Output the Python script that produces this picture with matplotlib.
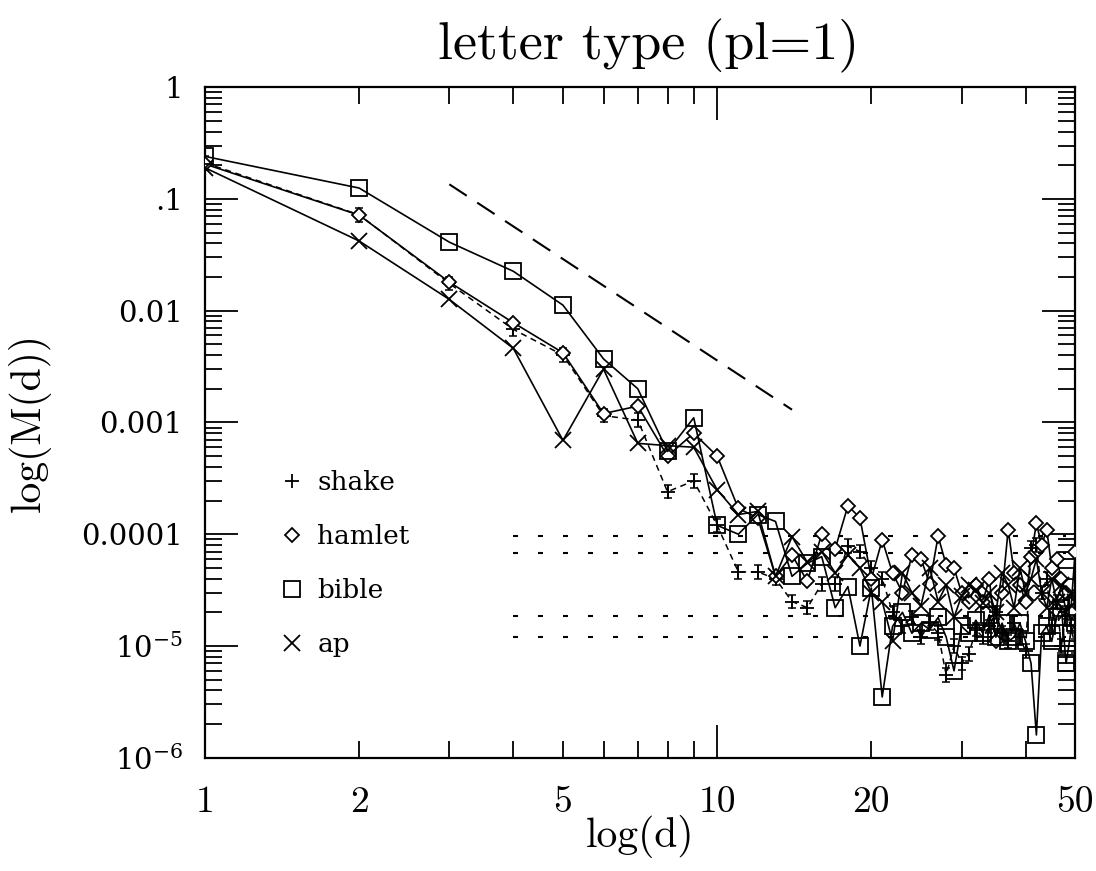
import numpy as np
import matplotlib.pyplot as plt
from matplotlib.lines import Line2D
from matplotlib.ticker import FixedLocator, FixedFormatter, FuncFormatter, LogLocator, NullFormatter

plt.rcParams['mathtext.fontset'] = 'dejavuserif'

# distance d = 1..50
d = np.arange(1, 51)

shake = [0.21, 0.072, 0.0175, 0.0068, 0.0040, 0.00115, 0.00105, 0.00024, 0.00030, 0.00012,
         4.6e-5, 4.6e-5, 4.0e-5, 2.5e-5, 2.2e-5, 3.6e-5, 3.6e-5, 7.8e-5, 7.0e-5, 5.0e-5,
         4.0e-5, 2.0e-5, 1.5e-5, 1.8e-5, 1.2e-5, 1.6e-5, 1.3e-5, 5.5e-6, 1.0e-5, 7.0e-6,
         8.5e-6, 1.4e-5, 1.2e-5, 1.5e-5, 2.0e-5, 1.3e-5, 1.1e-5, 1.6e-5, 1.2e-5, 9.0e-6,
         7.5e-5, 8.0e-5, 3.0e-5, 4.0e-5, 1.5e-5, 2.5e-5, 1.0e-5, 2.0e-5, 1.5e-5, 1.0e-5]

hamlet = [0.205, 0.0715, 0.018, 0.0078, 0.0042, 0.0012, 0.0014, 0.0005, 0.0008, 0.0005,
          1.7e-4, 1.4e-4, 4.2e-5, 6.5e-5, 3.8e-5, 1.0e-4, 7.4e-5, 1.8e-4, 1.4e-4, 4.0e-5,
          8.9e-5, 4.5e-5, 3.0e-5, 6.5e-5, 6.0e-5, 3.6e-5, 9.6e-5, 5.3e-5, 5.0e-5, 3.0e-5,
          2.5e-5, 3.5e-5, 2.5e-5, 4.0e-5, 1.1e-5, 3.0e-5, 1.1e-4, 4.5e-5, 3.5e-5, 2.5e-5,
          6.3e-5, 1.25e-4, 8.0e-5, 1.1e-4, 5.0e-5, 6.0e-5, 4.0e-5, 3.0e-5, 2.0e-5, 7.0e-5]

bible = [0.24, 0.125, 0.041, 0.0225, 0.0112, 0.0037, 0.0020, 0.00055, 0.0011, 0.00012,
         1.0e-4, 1.5e-4, 1.3e-4, 4.2e-5, 5.5e-5, 6.3e-5, 2.2e-5, 3.4e-5, 1.0e-5, 3.3e-5,
         3.5e-6, 1.5e-5, 2.0e-5, 1.3e-5, 1.6e-5, 1.4e-5, 1.8e-5, 1.2e-5, 6.0e-6, 1.5e-5,
         1.3e-5, 1.7e-5, 1.3e-5, 1.9e-5, 1.2e-5, 1.6e-5, 1.1e-5, 1.2e-5, 1.6e-5, 1.1e-5,
         7.0e-6, 1.6e-6, 1.3e-5, 1.5e-5, 1.1e-5, 1.8e-5, 2.2e-5, 7.0e-6, 1.3e-5, 1.6e-5]

ap = [0.19, 0.042, 0.0126, 0.0046, 0.00069, 0.0030, 0.00065, 0.00062, 0.0006, 0.00025,
      1.5e-4, 1.6e-4, 4.2e-5, 9.5e-5, 5.6e-5, 7.0e-5, 4.5e-5, 6.5e-5, 5.0e-5, 3.0e-5,
      2.5e-5, 1.1e-5, 4.5e-5, 3.0e-5, 2.3e-5, 5.0e-5, 2.5e-5, 3.5e-5, 1.8e-5, 2.8e-5,
      3.5e-5, 3.2e-5, 2.4e-5, 3.0e-5, 2.0e-5, 4.5e-5, 3.5e-5, 2.2e-5, 5.0e-5, 3.0e-5,
      4.0e-5, 6.0e-5, 3.0e-5, 2.2e-5, 4.0e-5, 2.5e-5, 3.5e-5, 2.0e-5, 3.0e-5, 2.5e-5]

# slope -3 guide line and noise-floor levels
guide_d = [3, 14]
guide_m = [0.135, 0.0013]
floor_d = [4, 48]
floor_levels = [9.6e-5, 6.8e-5, 1.85e-5, 1.2e-5]

fig = plt.figure(figsize=(10.96, 8.71), dpi=100)
ax = fig.add_axes([0.187, 0.130, 0.794, 0.770])
ax.set_xscale('log')
ax.set_yscale('log')

shake = np.array(shake)
ax.plot(d, shake, color='k', lw=1.1, ls=(0, (4, 3)), zorder=2)
ax.errorbar(d, shake, yerr=[shake * 0.13, shake * 0.15], fmt='none', ecolor='k',
            elinewidth=1.1, capsize=3, capthick=1.1, zorder=3)
ax.plot(d, shake, 'k+', ms=10, mew=1.3, zorder=3)
ax.plot(d, hamlet, color='k', lw=1.2, marker='D', ms=7, mfc='white', mew=1.3, zorder=4)
ax.plot(d, bible, color='k', lw=1.2, marker='s', ms=11, mfc='none', mew=1.3, zorder=4)
ax.plot(d, ap, color='k', lw=1.2, marker='x', ms=11, mew=1.3, zorder=4)

ax.plot(guide_d, guide_m, color='k', lw=1.5, ls=(0, (10, 6)))
ax.hlines(floor_levels, floor_d[0], floor_d[1], colors='k', lw=1.5, linestyles=[(0, (2.4, 9.6))])

ax.set_xlim(1, 50)
ax.set_ylim(1e-6, 1)

ax.xaxis.set_major_locator(FixedLocator([1, 10]))
ax.xaxis.set_major_formatter(FixedFormatter(['1', '10']))
ax.xaxis.set_minor_locator(FixedLocator([2, 3, 4, 5, 6, 7, 8, 9, 20, 30, 40, 50]))
xlab = {2: '2', 5: '5', 20: '20', 50: '50'}
ax.xaxis.set_minor_formatter(FuncFormatter(lambda v, p: xlab.get(int(round(v)), '')))

ax.yaxis.set_major_locator(FixedLocator([1e-6, 1e-5, 1e-4, 1e-3, 1e-2, 1e-1, 1]))
ax.yaxis.set_major_formatter(FixedFormatter(['$10^{-6}$', '$10^{-5}$', '0.0001', '0.001',
                                             '0.01', '.1', '1']))
ax.yaxis.set_minor_locator(LogLocator(base=10, subs=np.arange(2, 10), numticks=20))
ax.yaxis.set_minor_formatter(NullFormatter())

ax.tick_params(which='both', direction='in', top=True, right=True, width=1.3)
ax.tick_params(which='major', length=24)
ax.tick_params(which='minor', length=12)
ax.tick_params(axis='x', which='both', pad=20)
ax.tick_params(axis='y', which='both', pad=16)
for lab in ax.get_xticklabels(which='both'):
    lab.set_family('cmr10')
    lab.set_fontsize(27)
for lab in ax.get_yticklabels():
    lab.set_family('DejaVu Serif')
    lab.set_fontsize(21)
for s in ax.spines.values():
    s.set_linewidth(1.6)

ax.set_xlabel('log(d)', family='cmr10', fontsize=30)
ax.xaxis.set_label_coords(0.5, -0.085)
ax.set_ylabel('log(M(d))', family='cmr10', fontsize=30)
ax.yaxis.set_label_coords(-0.177, 0.5)
ax.set_title('letter type (pl=1)', family='cmr10', fontsize=39, pad=20, x=0.51)

handles = [Line2D([], [], color='k', marker='+', ms=10, mew=1.3, ls='none'),
           Line2D([], [], color='k', marker='D', ms=7, mfc='white', mew=1.3, ls='none'),
           Line2D([], [], color='k', marker='s', ms=11, mfc='none', mew=1.3, ls='none'),
           Line2D([], [], color='k', marker='x', ms=11, mew=1.3, ls='none')]
ax.legend(handles, ['shake', 'hamlet', 'bible', 'ap'], loc='upper left',
          bbox_to_anchor=(0.085, 0.4285), frameon=False, borderpad=0, borderaxespad=0,
          handlelength=1.0, handletextpad=0.45, labelspacing=1.1,
          prop={'family': 'DejaVu Serif', 'size': 19})

fig.savefig('out.png', dpi=100)
